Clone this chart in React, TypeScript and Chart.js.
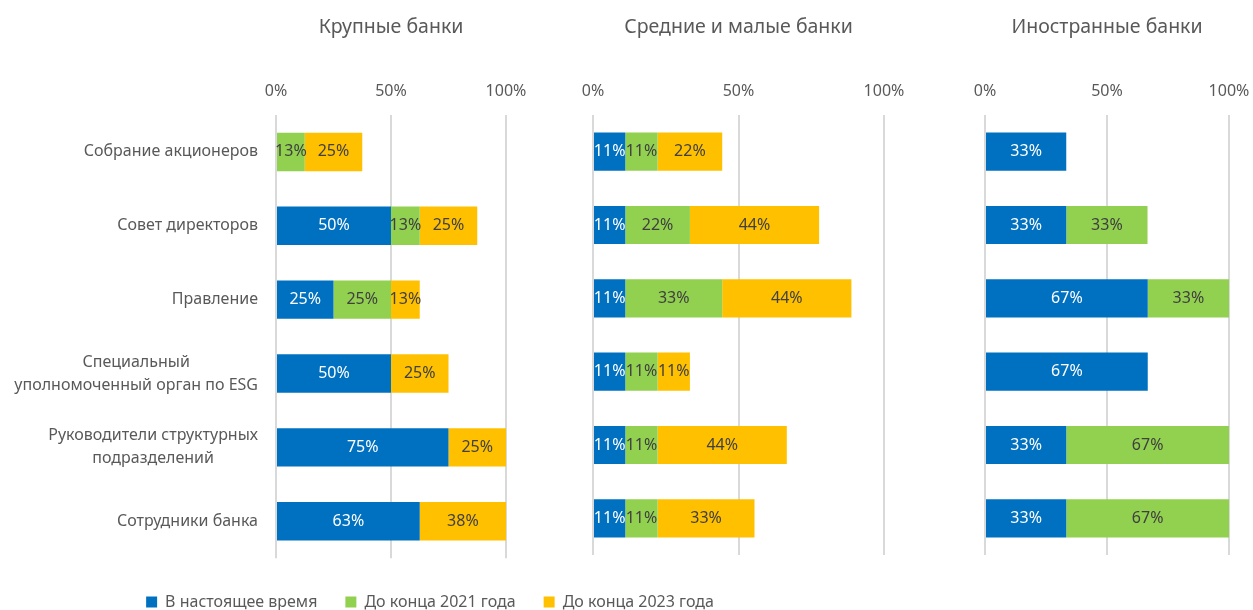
import React, { useEffect, useRef } from "react";
import { Chart, registerables } from "chart.js";

Chart.register(...registerables);

// ---- data ----
const categories: string[][] = [
  ["Собрание акционеров"],
  ["Совет директоров"],
  ["Правление"],
  ["Специальный", "уполномоченный орган по ESG"],
  ["Руководители структурных", "подразделений"],
  ["Сотрудники банка"],
];
const seriesNames = ["В настоящее время", "До конца 2021 года", "До конца 2023 года"];
const seriesColors = ["#0070C0", "#92D050", "#FFC000"];
const labelColors = ["#FFFFFF", "#404040", "#404040"];
const panelTitles = ["Крупные банки", "Средние и малые банки", "Иностранные банки"];

const largeNow = [0, 50, 25, 50, 75, 62.5];
const large2021 = [12.5, 12.5, 25, 0, 0, 0];
const large2023 = [25, 25, 12.5, 25, 25, 37.5];

const midNow = [11.1, 11.1, 11.1, 11.1, 11.1, 11.1];
const mid2021 = [11.1, 22.2, 33.3, 11.1, 11.1, 11.1];
const mid2023 = [22.2, 44.4, 44.4, 11.1, 44.4, 33.3];

const forNow = [33.3, 33.3, 66.7, 66.7, 33.3, 33.3];
const for2021 = [0, 33.3, 33.3, 0, 66.7, 66.7];
const for2023 = [0, 0, 0, 0, 0, 0];

const axisMin = 0;
const axisMax = 100;
const axisStep = 50;

// ---- styling ----
const FONT = "'Noto Sans', sans-serif";
const TEXT = "#595959";
const GRID = "#d9d9d9";

const barLabels = {
  id: "barLabels",
  afterDatasetsDraw(chart: any) {
    const ctx = chart.ctx;
    ctx.save();
    ctx.font = `16px ${FONT}`;
    ctx.textAlign = "center";
    ctx.textBaseline = "middle";
    chart.data.datasets.forEach((ds: any, di: number) => {
      const meta = chart.getDatasetMeta(di);
      meta.data.forEach((el: any, i: number) => {
        const v = ds.data[i];
        if (!v) return;
        const p = el.getCenterPoint();
        ctx.fillStyle = labelColors[di];
        ctx.fillText(Math.round(v) + "%", p.x, p.y);
      });
    });
    ctx.restore();
  },
};

const categoryLabels = {
  id: "categoryLabels",
  afterDraw(chart: any, _args: any, opts: any) {
    if (!opts || !opts.show) return;
    const ctx = chart.ctx;
    const scale = chart.scales.y;
    ctx.save();
    ctx.font = `16px ${FONT}`;
    ctx.fillStyle = TEXT;
    ctx.textAlign = "center";
    ctx.textBaseline = "middle";
    const right = chart.chartArea.left - 18;
    const lh = 23;
    categories.forEach((lines, i) => {
      const yc = scale.getPixelForTick(i);
      const w = Math.max(...lines.map((l) => ctx.measureText(l).width));
      const xc = right - w / 2;
      lines.forEach((l, j) => {
        ctx.fillText(l, xc, yc + (j - (lines.length - 1) / 2) * lh);
      });
    });
    ctx.restore();
  },
};

function makeChart(
  canvas: HTMLCanvasElement,
  title: string,
  data: number[][],
  first: boolean,
  padLeft: number,
  padRight: number
) {
  const datasets = data.map((d, i) => ({
    label: seriesNames[i],
    data: d,
    backgroundColor: seriesColors[i],
    borderWidth: 0,
    barPercentage: 0.52,
    categoryPercentage: 1,
  }));
  const scales: any = {
    x: {
      type: "linear",
      position: "top",
      stacked: true,
      min: axisMin,
      max: axisMax,
      ticks: {
        stepSize: axisStep,
        color: TEXT,
        font: { family: FONT, size: 16 },
        padding: 0,
        callback: (v: any) => v + "%",
      },
      grid: {
        color: GRID,
        lineWidth: 2,
        drawTicks: true,
        tickLength: 14,
        tickColor: "rgba(0,0,0,0)",
      },
      border: { display: false },
      afterFit: (s: any) => {
        s.height = 65.6;
      },
    },
    y: {
      type: "category",
      position: "left",
      stacked: true,
      display: first,
      ticks: { display: false },
      grid: { display: false },
      border: { display: false },
      afterFit: (s: any) => {
        s.width = first ? 276 : 0;
      },
    },
  };
  if (first) {
    scales.yR = {
      type: "linear",
      position: "right",
      ticks: { display: false },
      grid: { display: false },
      border: { display: false },
      afterFit: (s: any) => {
        s.width = 354;
      },
    };
    scales.xB = {
      type: "linear",
      position: "bottom",
      ticks: { display: false },
      grid: { display: false },
      border: { display: false },
      afterFit: (s: any) => {
        s.height = 7.8;
      },
    };
  }
  return new Chart(canvas, {
    type: "bar",
    data: { labels: categories.map((c) => c.join(" ")), datasets },
    plugins: [barLabels, categoryLabels],
    options: {
      indexAxis: "y",
      responsive: false,
      animation: false,
      layout: {
        autoPadding: false,
        padding: first
          ? { left: 0, right: 0, top: 0, bottom: 0 }
          : { left: padLeft, right: padRight, top: 0, bottom: 65 },
      },
      scales,
      plugins: {
        title: {
          display: true,
          text: title,
          fullSize: false,
          color: TEXT,
          font: { family: FONT, size: 19.5, weight: "normal" },
          padding: { top: 16, bottom: 10 },
        },
        legend: {
          display: first,
          position: "bottom",
          labels: {
            color: TEXT,
            font: { family: FONT, size: 16 },
            boxWidth: 11,
            boxHeight: 11,
            padding: 28,
          },
        },
        tooltip: { enabled: false },
        categoryLabels: { show: first },
      } as any,
    } as any,
  });
}

export default function App() {
  const c1 = useRef<HTMLCanvasElement>(null);
  const c2 = useRef<HTMLCanvasElement>(null);
  const c3 = useRef<HTMLCanvasElement>(null);

  useEffect(() => {
    const charts = [
      makeChart(c1.current!, panelTitles[0], [largeNow, large2021, large2023], true, 0, 0),
      makeChart(c2.current!, panelTitles[1], [midNow, mid2021, mid2023], false, 30, 30),
      makeChart(c3.current!, panelTitles[2], [forNow, for2021, for2023], false, 30, 24),
    ];
    return () => charts.forEach((c) => c.destroy());
  }, []);

  const cs: React.CSSProperties = { position: "absolute", top: 0 };
  return (
    <div
      style={{
        position: "absolute",
        left: 0,
        top: 0,
        width: 1253,
        height: 610,
        overflow: "hidden",
        background: "#ffffff",
      }}
    >
      <canvas ref={c1} width={860} height={620} style={{ ...cs, left: 0 }} />
      <canvas ref={c2} width={351} height={620} style={{ ...cs, left: 563 }} />
      <canvas ref={c3} width={298} height={620} style={{ ...cs, left: 955 }} />
    </div>
  );
}
